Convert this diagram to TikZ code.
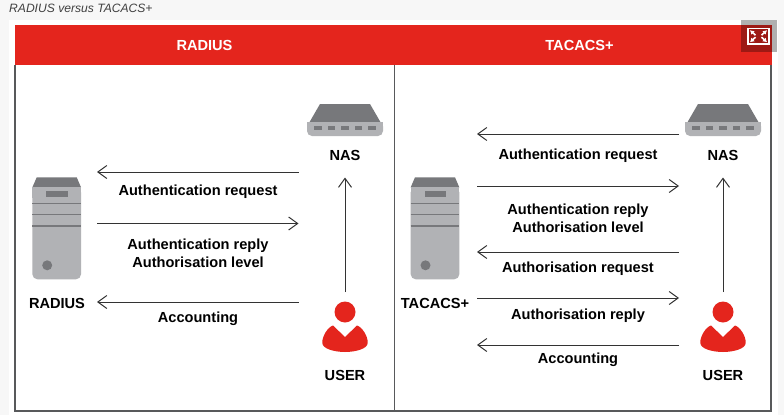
\documentclass[tikz,border=0pt]{standalone}
\usepackage{fontspec}
\setmainfont{Liberation Sans}
\usetikzlibrary{positioning,arrows.meta}
\definecolor{hdrred}{HTML}{E4251D}
\definecolor{icondark}{HTML}{77787B}
\definecolor{iconlight}{HTML}{B1B2B5}
\definecolor{framegray}{HTML}{58595B}
\definecolor{pagegray}{HTML}{F7F7F7}
\tikzset{
    nasicon/.pic={
        \fill[icondark] (-25,-15.5) -- (25,-15.5) -- (38,7) -- (-38,7) -- cycle;
        \fill[iconlight, rounded corners=5pt] (-38,2.5) rectangle (38,16.5);
        \fill[iconlight] (-38,2.5) rectangle (38,8);
        \foreach \x in {-27,-13.5,0,13.5,27} {
            \fill[icondark] (\x-3.7,6) rectangle (\x+3.7,10);
        }
    },
    servericon/.pic={
        \fill[icondark] (-20,-51) -- (20,-51) -- (24.3,-41) -- (-24.3,-41) -- cycle;
        \fill[iconlight, rounded corners=5pt] (-24.3,-41) rectangle (24.3,51);
        \fill[iconlight] (-24.3,-41) rectangle (24.3,-30);
        \fill[icondark] (-10.5,-37.6) rectangle (11,-31);
        \foreach \y in {-24.6,-14,-2.3} {
            \draw[icondark, line width=1.3pt] (-24.3,\y) -- (24.3,\y);
        }
        \fill[icondark] (-9.5,37) circle (5);
    },
    usericon/.pic={
        \fill[hdrred] (0,-20) circle (10.5);
        \fill[hdrred] (0,5) -- (-12,-6.5) .. controls (-17,-5) and (-23,4) .. (-22.7,11)
            .. controls (-22.5,17) and (-10,20) .. (0,20)
            .. controls (10,20) and (22.5,17) .. (22.7,11)
            .. controls (23,4) and (17,-5) .. (12,-6.5) -- cycle;
    }
}
\begin{document}
\begin{tikzpicture}[x=1pt, y=-1pt,
    every node/.style={font=\bfseries\fontsize{14.6}{17}\selectfont, inner sep=0pt, text=black},
    msg/.style={align=center},
    arrow/.style={-{Straight Barb[length=9pt, width=13pt]}, line width=1pt, draw=black!80},
    header/.style={text=white, font=\bfseries\fontsize{14.6}{17}\selectfont}]
    \useasboundingbox (0,0) rectangle (784,415);
    \fill[pagegray] (0,0) rectangle (784,415);
    \fill[white] (9,20) rectangle (778,415);
    \node[font=\itshape\fontsize{12.1}{14}\selectfont, text=black!75, anchor=west] (caption) at (9,8) {RADIUS versus TACACS+};

    % frame and header band
    \draw[framegray, line width=1.2pt] (15,65) -- (15,411) -- (771,411) -- (771,65);
    \draw[framegray, line width=1.2pt] (394.5,65) -- (394.5,411);
    \fill[hdrred] (15,25) rectangle (772,65);
    \node[header] (radius_head) at (204.5,45.5) {RADIUS};
    \node[header] (tacacs_head) at (579.5,45.5) {TACACS+};

    % expand button
    \fill[black, opacity=0.31] (741,20) rectangle (777,52);
    \draw[white, line width=1.1pt] (748,28.5) rectangle (769,44);
    \foreach \sx/\sy in {1/1,1/-1,-1/1,-1/-1} {
        \draw[white, line width=1.6pt, -{Latex[length=4pt, width=5pt]}]
            (758.5+\sx*3,36.2+\sy*1) -- (758.5+\sx*8.5,36.2+\sy*6);
    }

    % left panel
    \pic at (345,119.5) {nasicon};
    \pic at (56.7,228.3) {servericon};
    \pic at (345,332) {usericon};
    \node (nas1) at (345,155) {NAS};
    \node (server1) at (57,303) {RADIUS};
    \node (user1) at (345,375) {USER};

    % right panel
    \pic at (723,119.5) {nasicon};
    \pic at (435,228.3) {servericon};
    \pic at (723,332) {usericon};
    \node (nas2) at (723,155) {NAS};
    \node (server2) at (435,303) {TACACS+};
    \node (user2) at (723,375) {USER};

    % message labels
    \node[msg] (authreq1) at (198,192) {Authentication request};
    \node[msg] (authrep1) at (198,253.5) {Authentication reply\\[1.3pt]Authorisation level};
    \node[msg] (acct1) at (198,318.5) {Accounting};
    \node[msg] (authreq2) at (578,155.5) {Authentication request};
    \node[msg] (authrep2) at (578,218) {Authentication reply\\[1.3pt]Authorisation level};
    \node[msg] (authzreq2) at (578,268.5) {Authorisation request};
    \node[msg] (authzrep2) at (578,315.5) {Authorisation reply};
    \node[msg] (acct2) at (578,359.5) {Accounting};

    % horizontal arrows, y and direction
    \foreach \i/\y in {1/172,2/223.5,3/302} {
        \coordinate (la\i) at (97,\y);
        \coordinate (lb\i) at (298.5,\y);
    }
    \foreach \i/\y in {1/134,2/186,3/252,4/298,5/345} {
        \coordinate (ra\i) at (477,\y);
        \coordinate (rb\i) at (679,\y);
    }
    \draw[arrow] (lb1) -- (la1);
    \draw[arrow] (la2) -- (lb2);
    \draw[arrow] (lb3) -- (la3);
    \draw[arrow] (rb1) -- (ra1);
    \draw[arrow] (ra2) -- (rb2);
    \draw[arrow] (rb3) -- (ra3);
    \draw[arrow] (ra4) -- (rb4);
    \draw[arrow] (rb5) -- (ra5);

    % user to NAS
    \coordinate (up1) at (345,292);
    \coordinate (up2) at (723,292);
    \draw[arrow] (up1) -- (nas1.south |- 0,177.5);
    \draw[arrow] (up2) -- (nas2.south |- 0,177.5);
\end{tikzpicture}
\end{document}
